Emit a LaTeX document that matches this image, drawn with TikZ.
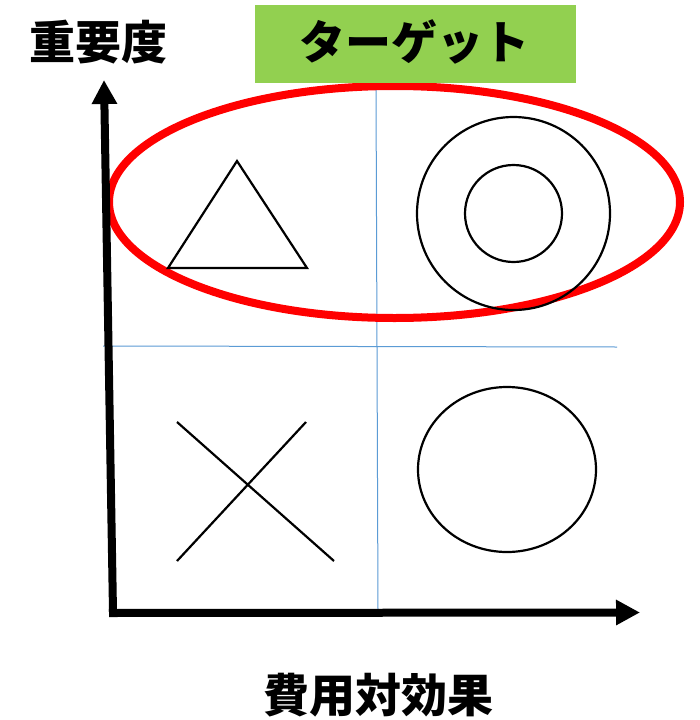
\documentclass[tikz,border=0pt]{standalone}
\usepackage{fontspec}
\newfontfamily\cjk{Noto Sans CJK JP}
\usetikzlibrary{arrows.meta,shapes.geometric}
\definecolor{tgreen}{HTML}{92D050}
\definecolor{gridblue}{HTML}{5B9BD5}
\begin{document}
\begin{tikzpicture}[x=1pt,y=-1pt,
  lbl/.style={font=\cjk\bfseries\fontsize{46}{50}\selectfont, inner sep=0pt},
  axis/.style={line width=8pt, -{Triangle[length=24pt,width=24pt]}},
  grid/.style={gridblue, line width=1pt},
  shp/.style={black, line width=2.2pt}]
\useasboundingbox (0,0) rectangle (700,720);
\fill[white] (0,0) rectangle (700,720);
% grid lines
\coordinate (gvt) at (376,87);
\coordinate (gvb) at (378,610);
\coordinate (ghl) at (103,346);
\coordinate (ghr) at (617,347);
\draw[grid] (gvt) -- (gvb);
\draw[grid] (ghl) -- (ghr);
% red target ellipse
\node[draw=red, line width=8pt, ellipse, minimum width=571pt, minimum height=232pt, inner sep=0pt] (target) at (394.5,202) {};
% symbols
\node[shp, draw, circle, minimum size=193pt, inner sep=0pt] (outer) at (513.5,213.5) {};
\node[shp, draw, circle, minimum size=97pt, inner sep=0pt] (inner) at (513.5,213.5) {};
\coordinate (ta) at (237,161);
\coordinate (tb) at (168,268);
\coordinate (tc) at (307,268);
\draw[shp, line join=miter] (ta) -- (tb) -- (tc) -- cycle;
\coordinate (x1) at (177,422);
\coordinate (x2) at (334,561);
\coordinate (x3) at (306,422);
\coordinate (x4) at (177,561);
\draw[shp] (x1) -- (x2);
\draw[shp] (x3) -- (x4);
\node[shp, draw, ellipse, minimum width=178pt, minimum height=165pt, inner sep=0pt] (lowc) at (507,469.5) {};
% target label box
\node[fill=tgreen, minimum width=321pt, minimum height=78pt, inner sep=0pt] (tbox) at (415.5,44) {};
\node[lbl] (tlbl) at (414,41.5) {ターゲット};
% axes
\coordinate (o1) at (113,612);
\coordinate (ytip) at (104,80);
\coordinate (o2) at (109,613);
\coordinate (xtip) at (640,612.5);
\draw[axis] (o1) -- (ytip);
\draw[axis] (o2) -- (xtip);
% axis labels
\node[lbl] (ylbl) at (98.5,42) {重要度};
\node[lbl] (xlbl) at (378,695) {費用対効果};
\end{tikzpicture}
\end{document}
